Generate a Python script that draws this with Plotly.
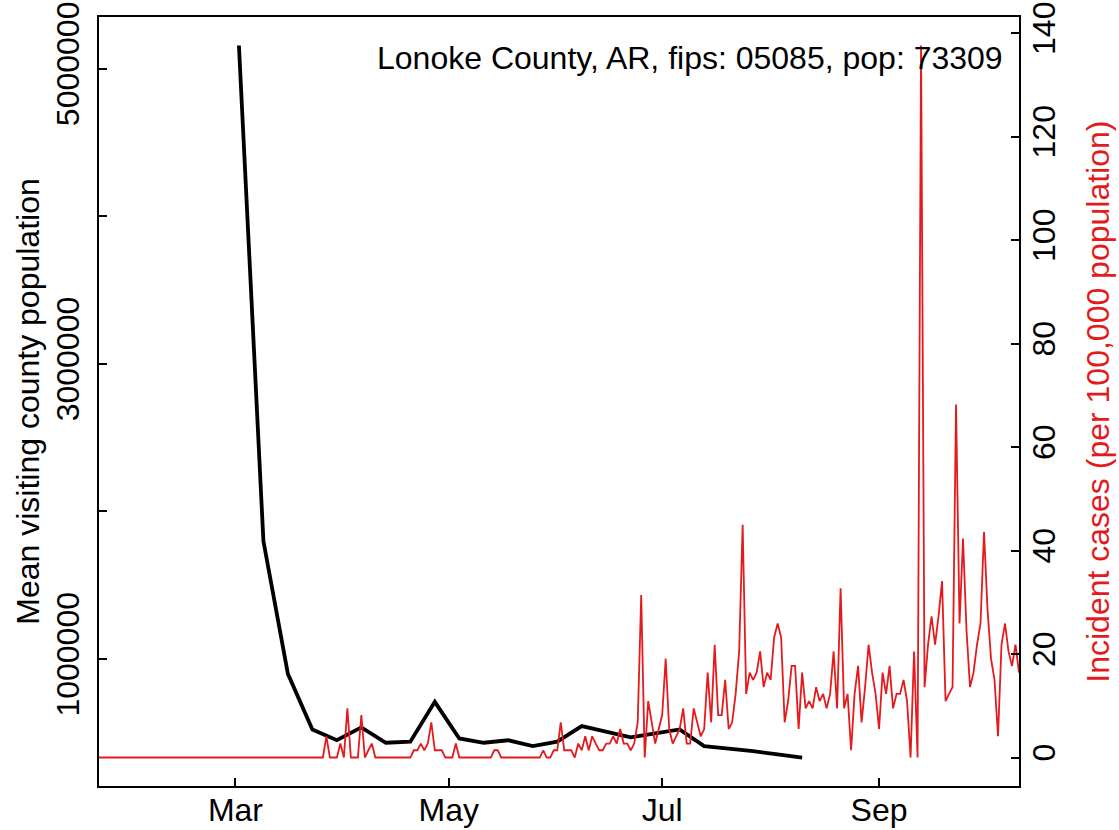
import pandas as pd
import plotly.graph_objects as go

# --- data ---
# weekly mean visiting county population (black line), starting 2020-03-02
black_start = "2020-03-02"
black_values = [5157000, 1800000, 900000, 523000, 450000, 537000, 433000, 440000,
                710000, 462000, 433000, 450000, 410000, 440000, 546000, 507000,
                470000, 496000, 523000, 410000, 395000, 376000, 354000, 333000]

# daily incident cases per 100,000 (red line), 2020-01-22 .. 2020-10-11
red_start = "2020-01-22"
red_values = [
    0, 0, 0, 0, 0, 0, 0, 0, 0, 0, 0, 0, 0, 0, 0, 0, 0, 0, 0, 0, 0,
    0, 0, 0, 0, 0, 0, 0, 0, 0, 0, 0, 0, 0, 0, 0, 0, 0, 0, 0, 0, 0,
    0, 0, 0, 0, 0, 0, 0, 0, 0, 0, 0, 0, 0, 0, 0, 0, 0, 0, 0, 0, 0,
    # Mar 24 ->
    0, 0, 4.1, 0, 0, 0, 2.7, 0, 9.5, 0, 0, 0, 8.2, 0, 1.4, 2.7, 0,
    0, 0, 0, 0, 0, 0, 0, 0, 0,
    0, 1.4, 1.4, 2.7, 1.4, 2.7, 6.8, 1.4, 1.4, 1.4, 0, 0, 0, 2.7, 0,
    0, 0, 0, 0, 0, 0, 0, 0, 0,
    1.4, 1.4,
    0, 0, 0, 0, 0, 0, 0, 0, 0, 0, 0, 0,
    1.4, 0, 0, 1.4, 1.4, 6.8, 1.4, 1.4, 1.4, 0, 2.7, 1.4, 4.1, 1.4, 4.1,
    2.7, 1.4, 1.4, 2.7, 2.7, 4.1, 2.7,
    # Jun 18 ->
    5.5, 2.7, 2.7, 1.4, 2.7, 6.8, 31.4, 0, 10.9, 6.8, 2.7, 5.5, 8.2, 19.1,
    5.5, 2.7, 4.1, 5.5, 9.5, 2.7, 2.7, 9.5, 6.8, 4.1, 5.5, 16.4, 6.8, 21.8,
    8.2, 8.2, 15.0, 5.5, 6.8, 12.3, 20.5, 45.0, 12.3, 16.4, 15.0, 16.4, 20.5,
    13.6, 16.4, 15.0, 23.2, 25.9, 23.2, 6.8, 10.9, 17.7, 17.7, 5.5, 16.4,
    9.5, 10.9, 9.5, 13.6, 10.9, 12.3, 9.5, 12.3, 20.5, 9.5, 32.7, 9.5, 12.3,
    1.4, 12.3, 17.7, 6.8, 13.6, 21.8, 16.4, 12.3, 5.5, 16.4, 12.3, 17.7,
    9.5, 12.3, 12.3, 15.0, 10.9, 0, 20.5, 0, 137.6, 13.6, 21.8, 27.3, 21.8,
    27.3, 34.1, 10.9, 12.3, 13.6, 68.2, 25.9, 42.3, 24.5, 13.6, 16.4, 21.8,
    25.9, 43.6, 28.6, 19.1, 15.0, 4.1, 21.8, 25.9, 20.5, 17.7, 21.8, 16.4,
]

x_tickvals = ["2020-03-01", "2020-05-01", "2020-07-01", "2020-09-01"]
x_ticktext = ["Mar", "May", "Jul", "Sep"]
left_tickvals = [1000000, 2000000, 3000000, 4000000, 5000000]
left_ticktext = ["1000000", "", "3000000", "", "5000000"]
right_tickvals = [0, 20, 40, 60, 80, 100, 120, 140]

label_text = "Lonoke County, AR, fips: 05085, pop: 73309"

black_dates = pd.date_range(black_start, periods=len(black_values), freq="7D")
red_dates = pd.date_range(red_start, periods=len(red_values), freq="D")

RED = "#E41A1C"
FONT = "Liberation Sans, Arial, Helvetica, sans-serif"
FS = 32


# R-style 4% padding on y ranges
def pad(vals):
    lo, hi = min(vals), max(vals)
    d = (hi - lo) * 0.04
    return [lo - d, hi + d]


fig = go.Figure()
fig.add_trace(go.Scatter(x=black_dates, y=black_values, mode="lines",
                         line=dict(color="black", width=3.8), yaxis="y"))
fig.add_trace(go.Scatter(x=red_dates, y=red_values, mode="lines",
                         line=dict(color=RED, width=1.8), yaxis="y2"))

axis_common = dict(showgrid=False, zeroline=False, showline=True,
                   automargin=False, ticklabeloverflow="allow",
                   linecolor="black", linewidth=1.5, ticks="inside",
                   ticklen=8, tickwidth=1.5, tickcolor="black",
                   tickfont=dict(family=FONT, size=FS, color="black"))

fig.update_layout(
    width=1119, height=830,
    margin=dict(l=99, r=100, t=17, b=44, autoexpand=False),
    plot_bgcolor="white", paper_bgcolor="white",
    showlegend=False,
    xaxis=dict(axis_common, range=["2020-01-22", "2020-10-11"],
               tickvals=x_tickvals, ticktext=x_ticktext, mirror=True,
               ticklabelstandoff=-5),
    yaxis=dict(axis_common, range=pad(black_values),
               tickvals=left_tickvals, ticktext=left_ticktext,
               tickangle=-90, ticklabelstandoff=5),
    yaxis2=dict(axis_common, range=pad(red_values), overlaying="y",
                side="right", tickvals=right_tickvals, tickangle=-90,
                ticklabelstandoff=-4),
    annotations=[
        dict(text=label_text, xref="paper", yref="paper", x=0.985, y=0.947,
             xanchor="right", yanchor="middle", showarrow=False,
             font=dict(family=FONT, size=FS, color="black")),
        dict(text="Mean visiting county population", xref="paper",
             yref="paper", x=-0.078, y=0.5, textangle=-90,
             xanchor="center", yanchor="middle", showarrow=False,
             font=dict(family=FONT, size=FS, color="black")),
        dict(text="Incident cases (per 100,000 population)", xref="paper",
             yref="paper", x=1.085, y=0.5, textangle=-90,
             xanchor="center", yanchor="middle", showarrow=False,
             font=dict(family=FONT, size=FS, color=RED)),
    ],
)

# drop the default 8px page margin so the figure fills the window
fig.write_html("out.html", config={"displayModeBar": False},
               post_script="document.body.style.margin = '0';")
